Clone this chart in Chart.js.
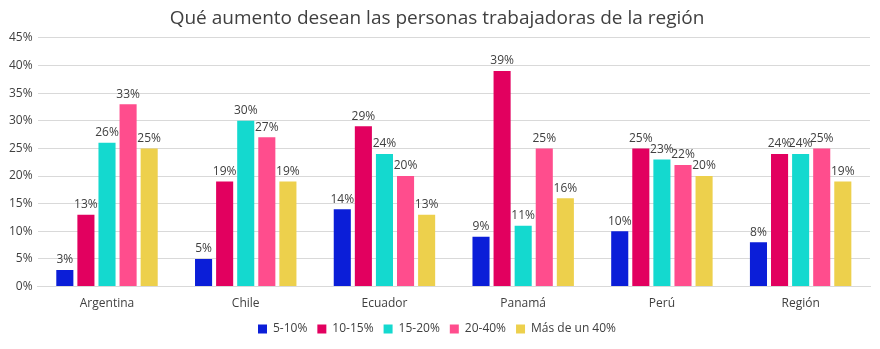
<!DOCTYPE html>
<html>
<head>
<meta charset="utf-8">
<script src="https://cdn.jsdelivr.net/npm/chart.js@4/dist/chart.umd.min.js"></script>
<style>
  html, body { margin: 0; padding: 0; background: #fff; }
  #wrap { width: 880px; height: 349px; }
</style>
</head>
<body>
<div id="wrap"><canvas id="chart"></canvas></div>
<script>
// datos
const categories = ["Argentina", "Chile", "Ecuador", "Panamá", "Perú", "Región"];
const seriesNames = ["5-10%", "10-15%", "15-20%", "20-40%", "Más de un 40%"];
const s5_10 = [3, 5, 14, 9, 10, 8];
const s10_15 = [13, 19, 29, 39, 25, 24];
const s15_20 = [26, 30, 24, 11, 23, 24];
const s20_40 = [33, 27, 20, 25, 22, 25];
const sMas40 = [25, 19, 13, 16, 20, 19];
const colors = ["#0B1ED8", "#E2005F", "#14D9CF", "#FF4D8D", "#EDD04C"];

const font = "'Open Sans', 'DejaVu Sans', sans-serif";

// etiquetas encima de cada barra
const barLabels = {
    id: "barLabels",
    afterDatasetsDraw(chart) {
        const ctx = chart.ctx;
        ctx.save();
        ctx.font = "12px " + font;
        ctx.fillStyle = "#404040";
        ctx.textAlign = "center";
        ctx.textBaseline = "bottom";
        chart.data.datasets.forEach((ds, i) => {
            chart.getDatasetMeta(i).data.forEach((bar, j) => {
                ctx.fillText(ds.data[j] + "%", bar.x, bar.y - 4);
            });
        });
        ctx.restore();
    }
};

const allSeries = [s5_10, s10_15, s15_20, s20_40, sMas40];

new Chart(document.getElementById("chart"), {
    type: "bar",
    data: {
        labels: categories,
        datasets: allSeries.map((d, i) => ({
            label: seriesNames[i],
            data: d,
            backgroundColor: colors[i],
            categoryPercentage: 0.76,
            barPercentage: 0.81
        }))
    },
    options: {
        responsive: true,
        maintainAspectRatio: false,
        animation: false,
        layout: { padding: { left: 4, right: 10, top: 0, bottom: 4 } },
        plugins: {
            title: {
                display: true,
                text: "Qué aumento desean las personas trabajadoras de la región",
                color: "#404040",
                font: { family: font, size: 19, weight: "normal" },
                padding: { top: 7, bottom: 8 }
            },
            legend: {
                position: "bottom",
                labels: {
                    color: "#404040",
                    font: { family: font, size: 12 },
                    boxWidth: 9,
                    boxHeight: 9,
                    padding: 10
                }
            },
            tooltip: { enabled: false }
        },
        scales: {
            x: {
                grid: { display: false },
                border: { color: "#d9d9d9" },
                ticks: { color: "#404040", font: { family: font, size: 12 }, padding: 2 }
            },
            y: {
                min: 0,
                max: 45,
                ticks: {
                    stepSize: 5,
                    color: "#404040",
                    font: { family: font, size: 12 },
                    padding: 5,
                    callback: v => v + "%"
                },
                grid: { color: "#d9d9d9", drawTicks: false },
                border: { display: false }
            }
        }
    },
    plugins: [barLabels]
});
</script>
</body>
</html>
